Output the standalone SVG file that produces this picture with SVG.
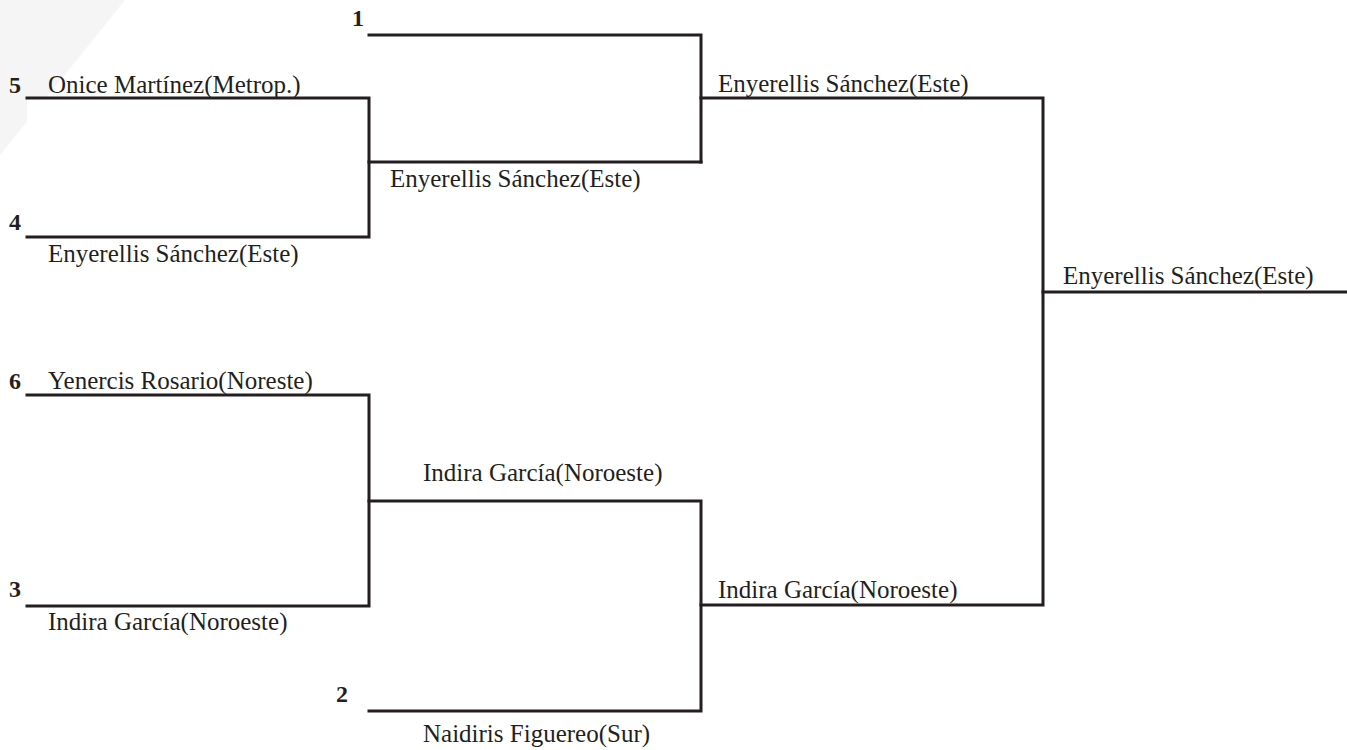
<svg xmlns="http://www.w3.org/2000/svg" width="1347" height="750" viewBox="0 0 1347 750">
<style>
.ln{fill:none;stroke:#231f20;stroke-width:3;stroke-linecap:square;stroke-linejoin:miter}
.t{font-family:"Liberation Serif","Times New Roman",serif;font-size:25px;fill:#231f20}
.s{font-family:"Liberation Serif","Times New Roman",serif;font-size:24px;font-weight:bold;fill:#231f20}
</style>
<rect width="1347" height="750" fill="#ffffff"/>
<g id="bg">
<polygon points="0,0 125,0 0,155" fill="#f5f5f6"/>
<rect x="27" y="98" width="342" height="70" fill="#ffffff"/>
</g>
<g id="connectors">
<path class="ln" d="M27,98 H369 V237 H27"/>
<path class="ln" d="M369,162 H701"/>
<path class="ln" d="M369,35 H701 V162"/>
<path class="ln" d="M701,98 H1043 V605 H701"/>
<path class="ln" d="M1043,292 H1347"/>
<path class="ln" d="M27,395 H369 V606 H27"/>
<path class="ln" d="M369,501 H701 V711 H369"/>
</g>
<g id="seed1"><text class="s" x="352" y="26">1</text></g>
<g id="seed5"><text class="s" x="9" y="93">5</text><text class="t" x="48" y="93">Onice Martínez(Metrop.)</text></g>
<g id="seed4"><text class="s" x="9" y="230">4</text><text class="t" x="48" y="262">Enyerellis Sánchez(Este)</text></g>
<g id="r2a"><text class="t" x="390" y="187">Enyerellis Sánchez(Este)</text></g>
<g id="sf1"><text class="t" x="718" y="92">Enyerellis Sánchez(Este)</text></g>
<g id="champion"><text class="t" x="1063" y="284">Enyerellis Sánchez(Este)</text></g>
<g id="seed6"><text class="s" x="9" y="389">6</text><text class="t" x="48" y="389">Yenercis Rosario(Noreste)</text></g>
<g id="r2b"><text class="t" x="423" y="481">Indira García(Noroeste)</text></g>
<g id="seed3"><text class="s" x="9" y="597">3</text><text class="t" x="48" y="630">Indira García(Noroeste)</text></g>
<g id="sf2"><text class="t" x="718" y="598">Indira García(Noroeste)</text></g>
<g id="seed2"><text class="s" x="336" y="702">2</text><text class="t" x="423" y="742">Naidiris Figuereo(Sur)</text></g>
</svg>
